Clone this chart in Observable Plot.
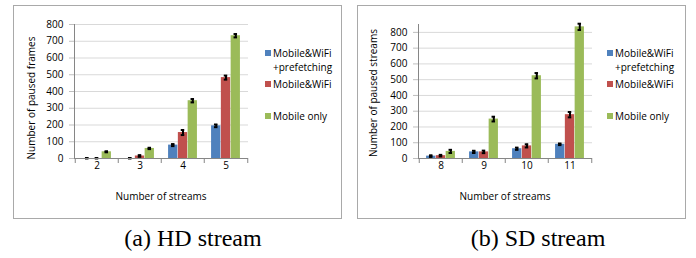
<!DOCTYPE html>
<html>
<head>
<meta charset="utf-8">
<script src="https://cdn.jsdelivr.net/npm/d3@7"></script>
<script src="https://cdn.jsdelivr.net/npm/@observablehq/plot@0.6"></script>
<style>
  html, body { margin: 0; padding: 0; background: #fff; }
  #wrap { position: relative; width: 696px; height: 258px; overflow: hidden; font-family: "Open Sans", sans-serif; }
  .box { position: absolute; border: 1px solid #a9a9a9; box-sizing: border-box; }
  .abs { position: absolute; white-space: nowrap; color: #000; }
  .sw { position: absolute; width: 6px; height: 6px; }
  .cap { position: absolute; font-family: "Liberation Serif", "Times New Roman", serif; font-size: 24px; line-height: 24px; white-space: nowrap; }
</style>
</head>
<body>
<div id="wrap"></div>
<script>
// ---- data ----
const seriesNames = ["Mobile&WiFi +prefetching", "Mobile&WiFi", "Mobile only"];
const seriesColors = ["#4F81BD", "#C0504D", "#9BBB59"];

const hdCats = ["2", "3", "4", "5"];
const hdPrefetch = [0, 0, 80, 195];
const hdWifi = [0, 15, 155, 483];
const hdMobile = [40, 60, 345, 733];
const hdPrefetchErr = [3, 3, 6, 8];
const hdWifiErr = [3, 5, 15, 12];
const hdMobileErr = [3, 4, 10, 10];

const sdCats = ["8", "9", "10", "11"];
const sdPrefetch = [15, 42, 62, 90];
const sdWifi = [18, 42, 80, 278];
const sdMobile = [45, 250, 525, 835];
const sdPrefetchErr = [5, 7, 7, 5];
const sdWifiErr = [5, 8, 10, 17];
const sdMobileErr = [10, 15, 17, 20];

const yTicks = [0, 100, 200, 300, 400, 500, 600, 700, 800];

// ---- layout ----
const W = 329, H = 214, ML = 61, MR = 94, MT = 19, MB = 61;
const plotW = W - ML - MR, plotH = H - MT - MB;

function panel(cats, vals, errs, ymax) {
  const step = plotW / cats.length;
  const bw = step * 0.225;
  const gap = (step - 3 * bw) / 2;
  const marks = [
    Plot.gridY(yTicks.filter(t => t > 0), {stroke: "#d9d9d9", strokeOpacity: 1}),
    Plot.axisY({ticks: yTicks, tickSize: 5, tickPadding: 6, stroke: "#bfbfbf", fill: "#000", label: null, fontSize: 10}),
    Plot.axisX({tickSize: 0, tickPadding: 3, label: null, fill: "#000", fontSize: 10})
  ];
  vals.forEach((v, s) => {
    const data = cats.map((c, i) => ({cat: c, v: v[i], e: errs[s][i]}));
    const cx = gap + (s + 0.5) * bw;
    marks.push(Plot.barY(data, {x: "cat", y: "v", fill: seriesColors[s],
      insetLeft: gap + s * bw, insetRight: step - gap - (s + 1) * bw}));
    marks.push(Plot.ruleX(data, {x: "cat", y1: d => d.v - d.e, y2: d => d.v + d.e,
      dx: cx - step / 2, stroke: "#000", strokeWidth: 2}));
    marks.push(Plot.tickY(data, {x: "cat", y: d => d.v + d.e, stroke: "#000", strokeWidth: 2,
      insetLeft: cx - 2, insetRight: step - cx - 2}));
    marks.push(Plot.tickY(data, {x: "cat", y: d => Math.max(0, d.v - d.e), stroke: "#000", strokeWidth: 2,
      insetLeft: cx - 2, insetRight: step - cx - 2}));
  });
  // axis lines
  marks.push(Plot.ruleY([0], {stroke: "#868686"}));
  marks.push(Plot.frame({anchor: "left", stroke: "#868686"}));
  // category boundary ticks
  marks.push(Plot.ruleX(cats, {x: d => d, dx: -step / 2, insetTop: plotH, insetBottom: -5, stroke: "#868686"}));
  marks.push(Plot.ruleX(cats.slice(-1), {x: d => d, dx: step / 2, insetTop: plotH, insetBottom: -5, stroke: "#868686"}));
  return Plot.plot({
    width: W, height: H,
    marginLeft: ML, marginRight: MR, marginTop: MT, marginBottom: MB,
    x: {type: "band", domain: cats, padding: 0},
    y: {domain: [0, ymax]},
    style: {fontFamily: "Open Sans", fontSize: "10px", color: "#000", background: "transparent", overflow: "visible"},
    marks
  });
}

const wrap = document.getElementById("wrap");

function addPanel(left, cats, vals, errs, ymax, ytitle, ytx, yty, legX, capText, capX) {
  const box = document.createElement("div");
  box.className = "box";
  Object.assign(box.style, {left: left + "px", top: "5px", width: W + "px", height: H + "px"});
  wrap.appendChild(box);

  const svg = panel(cats, vals, errs, ymax);
  svg.style.position = "absolute";
  svg.style.left = left + "px";
  svg.style.top = "5px";
  wrap.appendChild(svg);

  const yt = document.createElement("div");
  yt.className = "abs";
  yt.textContent = ytitle;
  Object.assign(yt.style, {left: ytx + "px", top: yty + "px", fontSize: "10px", lineHeight: "12px",
    transform: "translate(-50%, -50%) rotate(-90deg)"});
  wrap.appendChild(yt);

  const xt = document.createElement("div");
  xt.className = "abs";
  xt.textContent = "Number of streams";
  Object.assign(xt.style, {left: (left + ML + plotW / 2) + "px", top: "196px", fontSize: "10px", lineHeight: "12px",
    transform: "translate(-50%, -50%)"});
  wrap.appendChild(xt);

  // legend
  const rows = [
    {sw: 49.5, top: 46, lines: ["Mobile&WiFi", "+prefetching"]},
    {sw: 80.5, top: 77, lines: ["Mobile&WiFi"]},
    {sw: 113, top: 109, lines: ["Mobile only"]}
  ];
  rows.forEach((r, s) => {
    const sq = document.createElement("div");
    sq.className = "sw";
    Object.assign(sq.style, {left: legX + "px", top: r.sw + "px", background: seriesColors[s]});
    wrap.appendChild(sq);
    const t = document.createElement("div");
    t.className = "abs";
    t.innerHTML = r.lines.join("<br>");
    Object.assign(t.style, {left: (legX + 8) + "px", top: r.top + "px", fontSize: "10px", lineHeight: "14px"});
    wrap.appendChild(t);
  });

  const cap = document.createElement("div");
  cap.className = "cap";
  cap.textContent = capText;
  Object.assign(cap.style, {left: capX + "px", top: "226px", transform: "translateX(-50%)"});
  wrap.appendChild(cap);
}

addPanel(13, hdCats, [hdPrefetch, hdWifi, hdMobile], [hdPrefetchErr, hdWifiErr, hdMobileErr], 800,
  "Number of paused frames", 31, 98, 265, "(a) HD stream", 193);
addPanel(357, sdCats, [sdPrefetch, sdWifi, sdMobile], [sdPrefetchErr, sdWifiErr, sdMobileErr], 850,
  "Number of paused streams", 373, 93, 607, "(b) SD stream", 538);
</script>
</body>
</html>
